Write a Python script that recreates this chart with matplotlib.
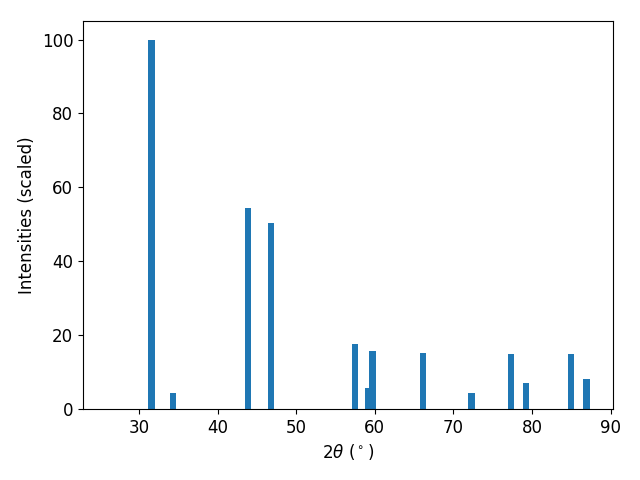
import matplotlib
matplotlib.use("Agg")
import matplotlib.pyplot as plt

two_theta = [31.6, 34.3, 43.9, 46.8, 57.5, 59.2, 59.7, 66.1, 72.3, 77.3, 79.2, 84.9, 86.9]
intensities = [100.0, 4.3, 54.5, 50.4, 17.6, 5.7, 15.7, 15.2, 4.3, 14.9, 7.0, 14.9, 8.1]

plt.rcParams["font.size"] = 12

fig, ax = plt.subplots(figsize=(6.4, 4.8), dpi=100)
ax.bar(two_theta, intensities, width=0.8, color="#1f77b4")
ax.set_xlim(22.9, 90.3)
ax.set_ylim(0, 105)
ax.set_xlabel(r"$2\theta$ ($^\circ$)")
ax.set_ylabel("Intensities (scaled)")

fig.subplots_adjust(left=0.1297, right=0.958, top=0.956, bottom=0.148)
plt.savefig("out.png", dpi=100)
